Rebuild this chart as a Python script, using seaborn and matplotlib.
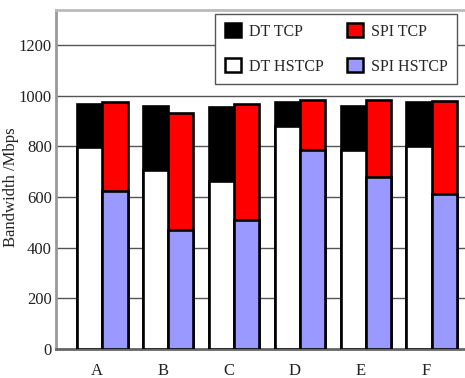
import numpy as np
import pandas as pd
import matplotlib
matplotlib.use("Agg")
import matplotlib.pyplot as plt
from matplotlib.patches import Patch
import seaborn as sns

# Bandwidth per scenario, split into HSTCP share and TCP share (stack top = total)
scenarios = ["A", "B", "C", "D", "E", "F"]
dt_total = [966, 960, 955, 974, 960, 974]
dt_hstcp = [797, 705, 662, 882, 786, 803]
spi_total = [976, 933, 966, 983, 983, 978]
spi_hstcp = [625, 471, 509, 786, 680, 612]
yticks = [0, 200, 400, 600, 800, 1000, 1200]

sns.set_theme(style="white")
plt.rcParams["font.family"] = ["Liberation Serif", "DejaVu Serif"]

df = pd.DataFrame({
    "scenario": scenarios * 2,
    "scheme": ["DT"] * len(scenarios) + ["SPI"] * len(scenarios),
    "total": dt_total + spi_total,
    "hstcp": dt_hstcp + spi_hstcp,
})

fig = plt.figure(figsize=(4.65, 3.78), dpi=100)
ax = fig.add_axes([56 / 465, 29 / 378, 422 / 465, 339.5 / 378])

common = dict(data=df, x="scenario", hue="scheme", width=0.77, edgecolor="black",
              linewidth=1.9, saturation=1, errorbar=None, legend=False, ax=ax, zorder=3)
sns.barplot(y="total", palette={"DT": "black", "SPI": "#ff0000"}, **common)
sns.barplot(y="hstcp", palette={"DT": "white", "SPI": "#9999ff"}, **common)

ax.set_xlim(-0.70, 5.70)
ax.set_ylim(0, 1340)
ax.set_yticks(yticks)
ax.set_yticklabels([str(t) for t in yticks], fontsize=12)
ax.set_xticks(np.arange(len(scenarios)) - 0.08)
ax.set_xticklabels(scenarios, fontsize=12)
ax.tick_params(axis="y", length=0, pad=3, colors="#222222")
ax.tick_params(axis="x", length=0, pad=10, colors="#222222")
ax.set_xlabel("")
ax.set_ylabel("Bandwidth /Mbps", fontsize=12, color="#222222")
ax.yaxis.set_label_coords(-0.088, 0.477)

ax.grid(axis="y", color="#555555", linewidth=1, zorder=0)
ax.grid(axis="x", visible=False)
ax.set_axisbelow(True)
for key, sp in ax.spines.items():
    sp.set_visible(True)
    sp.set_color("#999999")
    sp.set_linewidth(2)
ax.spines["top"].set_color("#bbbbbb")
ax.spines["bottom"].set_color("#666666")

handles = [
    Patch(facecolor="black", edgecolor="black", linewidth=1.8, label="DT TCP"),
    Patch(facecolor="white", edgecolor="black", linewidth=1.8, label="DT HSTCP"),
    Patch(facecolor="#ff0000", edgecolor="black", linewidth=1.8, label="SPI TCP"),
    Patch(facecolor="#9999ff", edgecolor="black", linewidth=1.8, label="SPI HSTCP"),
]
leg = ax.legend(handles=handles, ncol=2, loc="upper left",
                bbox_to_anchor=(0.377, 0.987), fontsize=11.5, frameon=True,
                fancybox=False, framealpha=1, edgecolor="#555555",
                handlelength=1.0, handleheight=0.95, handletextpad=0.5,
                columnspacing=1.45, labelspacing=1.15, borderpad=0.6,
                borderaxespad=0)
leg.get_frame().set_linewidth(1)
leg.set_zorder(5)

fig.savefig("out.png", dpi=100)
